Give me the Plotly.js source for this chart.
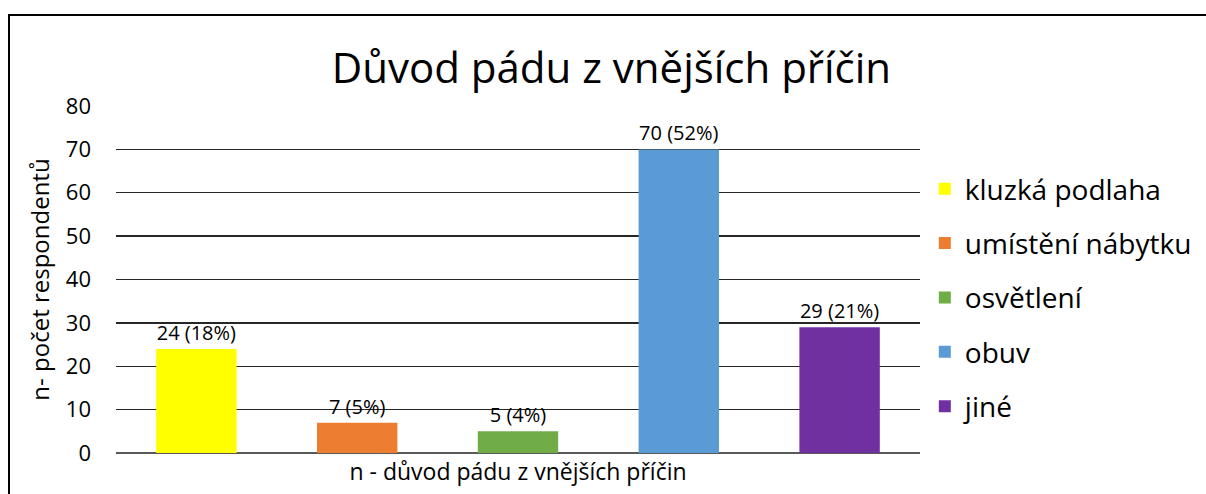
<!DOCTYPE html>
<html>
<head>
<meta charset="utf-8">
<script src="https://cdn.plot.ly/plotly-3.0.1.min.js"></script>
<style>
html,body{margin:0;padding:0;background:#fff;overflow:hidden;}
#chart{width:1206px;height:494px;}
#frame{position:absolute;left:8px;top:14px;width:1400px;height:700px;border-left:2px solid #000;border-top:2px solid #000;pointer-events:none;}
</style>
</head>
<body>
<div id="chart"></div>
<div id="frame"></div>
<script>
const categories = ["kluzká podlaha", "umístění nábytku", "osvětlení", "obuv", "jiné"];
const counts = [24, 7, 5, 70, 29];
const percents = [18, 5, 4, 52, 21];
const colors = ["#FFFF00", "#ED7D31", "#70AD47", "#5B9BD5", "#7030A0"];
const yTicks = [0, 10, 20, 30, 40, 50, 60, 70, 80];

const FONT = "'Open Sans', sans-serif";

const traces = categories.map((name, i) => ({
  type: "bar",
  name: name,
  x: ["n"],
  y: [counts[i]],
  text: [counts[i] + " (" + percents[i] + "%)"],
  textposition: "outside",
  cliponaxis: false,
  textfont: {family: FONT, size: 20, color: "#000"},
  marker: {color: colors[i], line: {width: 0}},
  legendgroup: "g" + i,
  hoverinfo: "skip"
}));

const layout = {
  width: 1206, height: 494,
  paper_bgcolor: "#fff", plot_bgcolor: "#fff",
  margin: {l: 116, r: 286, t: 106, b: 41, autoexpand: false},
  barmode: "group", bargap: 0, bargroupgap: 0.5,
  font: {family: FONT, color: "#000"},
  title: {text: "Důvod pádu z vnějších příčin", font: {family: FONT, size: 42, color: "#000"},
          x: 0.507, xanchor: "center", y: 0.862, yanchor: "middle"},
  xaxis: {showticklabels: false, showgrid: false, zeroline: false, showline: false,
          title: {text: "n - důvod pádu z vnějších příčin", font: {family: FONT, size: 23, color: "#000"}, standoff: 10}},
  yaxis: {range: [0, 80], tickvals: yTicks, ticktext: yTicks.map(String),
          showgrid: true, gridcolor: "#262626", gridwidth: 1.3,
          zeroline: true, zerolinecolor: "#595959", zerolinewidth: 1.3,
          showline: false, ticks: "", ticklabelstandoff: 24,
          tickfont: {family: FONT, size: 22, color: "#000"},
          title: {text: "n- počet respondentů", font: {family: FONT, size: 24, color: "#000"}, standoff: 9}},
  showlegend: true,
  legend: {x: 1.006, xanchor: "left", y: 0.833, yanchor: "top", traceorder: "grouped", tracegroupgap: 15,
           font: {family: FONT, size: 28, color: "#000"}, itemwidth: 30, bgcolor: "rgba(0,0,0,0)"}
};

Plotly.newPlot("chart", traces, layout, {displayModeBar: false, staticPlot: true});
</script>
</body>
</html>
